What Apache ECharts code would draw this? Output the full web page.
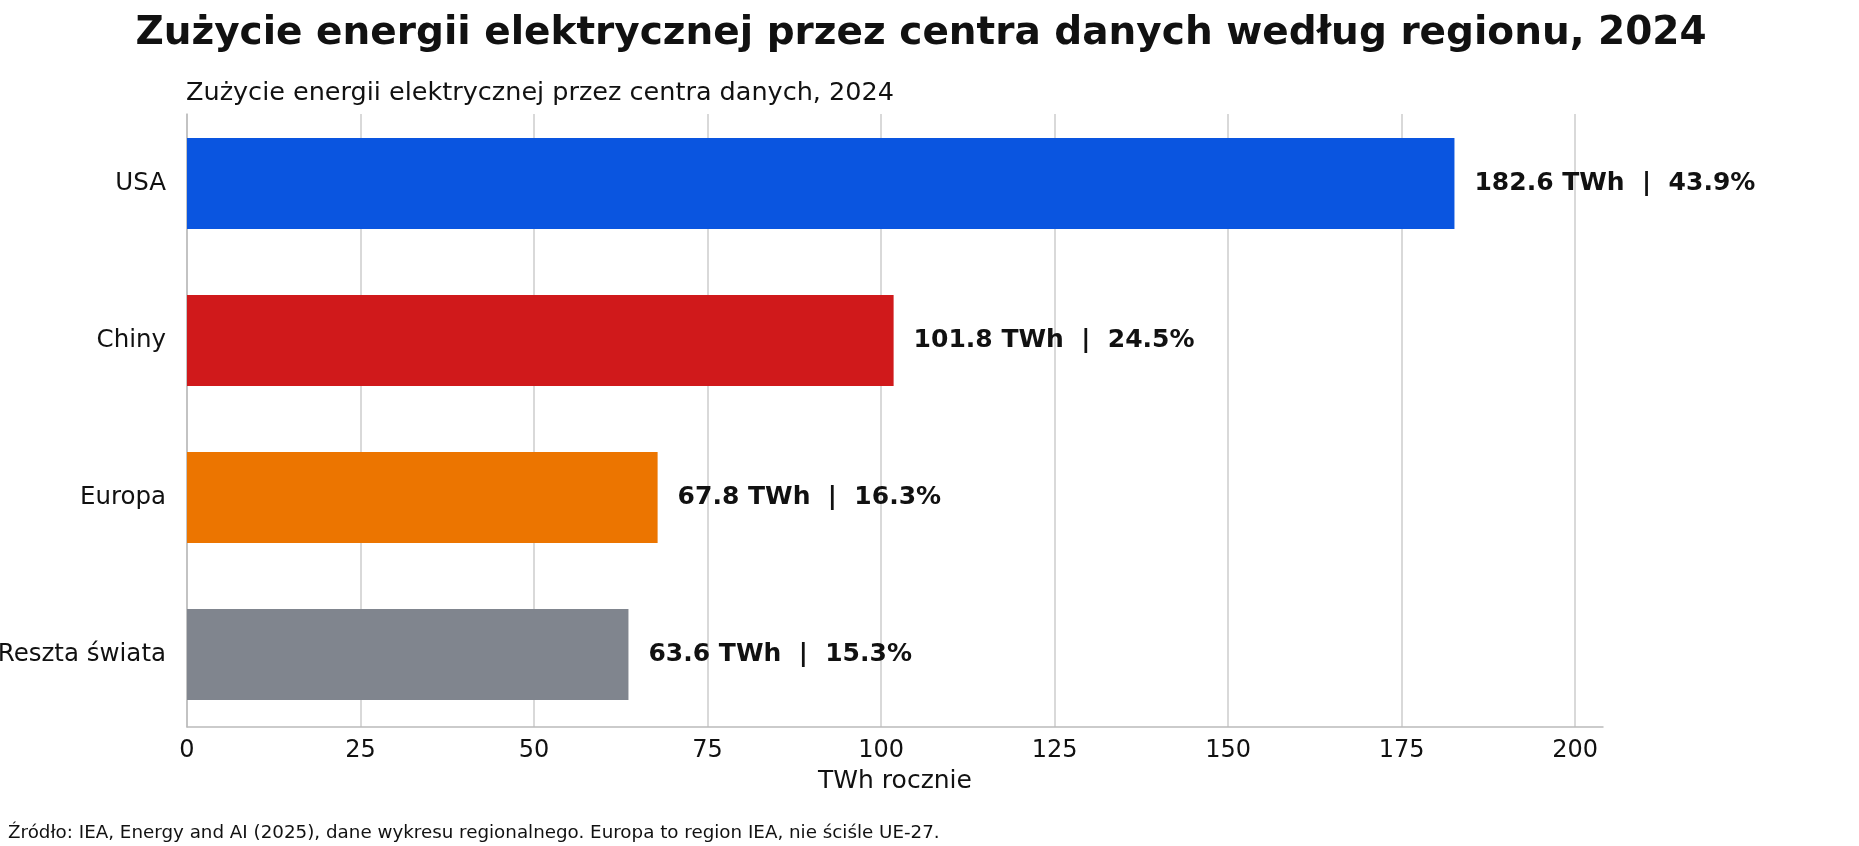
<!DOCTYPE html>
<html>
<head>
<meta charset="utf-8">
<script src="https://cdn.jsdelivr.net/npm/echarts@6/dist/echarts.min.js"></script>
<style>
  html, body { margin: 0; padding: 0; background: #fff; }
  #chart { width: 1859px; height: 846px; }
</style>
</head>
<body>
<div id="chart"></div>
<script>
// dane z wykresu
const regions = ['USA', 'Chiny', 'Europa', 'Reszta świata']
const twh = [182.6, 101.8, 67.8, 63.6]
const share = [43.9, 24.5, 16.3, 15.3]
const barColors = ['#0A55E0', '#D0191B', '#EC7500', '#80858E']
const xTicks = [0, 25, 50, 75, 100, 125, 150, 175, 200]

const font = 'DejaVu Sans'
const gridColor = '#ccc'

const myChart = echarts.init(document.getElementById('chart'))

const option = {
  backgroundColor: '#fff',
  animation: false,
  textStyle: { fontFamily: font },
  title: [
    {
      text: 'Zużycie energii elektrycznej przez centra danych według regionu, 2024',
      left: 916,
      top: 9,
      textAlign: 'center',
      textStyle: { fontFamily: font, fontSize: 39, fontWeight: 'bold', color: '#111' }
    },
    {
      text: 'Zużycie energii elektrycznej przez centra danych, 2024',
      left: 181,
      top: 75,
      textStyle: { fontFamily: font, fontSize: 25.5, fontWeight: 'normal', color: '#111' }
    },
    {
      text: 'Źródło: IEA, Energy and AI (2025), dane wykresu regionalnego. Europa to region IEA, nie ściśle UE-27.',
      left: 3,
      top: 819,
      textStyle: { fontFamily: font, fontSize: 18.3, fontWeight: 'normal', color: '#111' }
    }
  ],
  grid: [
    // słupki
    { left: 187, right: 256, top: 105, bottom: 113, containLabel: false, outerBoundsMode: 'none' },
    // ramka: osie i linie siatki
    { left: 187, right: 256, top: 114, bottom: 119, containLabel: false, outerBoundsMode: 'none' }
  ],
  xAxis: [
    {
      gridIndex: 0,
      type: 'value',
      min: 0,
      max: 204,
      show: false
    },
    {
      gridIndex: 1,
      type: 'value',
      min: 0,
      max: 204,
      interval: 25,
      name: 'TWh rocznie',
      nameLocation: 'middle',
      nameGap: 42,
      nameTextStyle: { fontFamily: font, fontSize: 25, color: '#111' },
      axisLine: { show: true, lineStyle: { color: '#bbb', width: 1.5 } },
      axisTick: { show: false },
      axisLabel: {
        fontFamily: font,
        fontSize: 24,
        color: '#111',
        margin: 12,
        showMaxLabel: false,
        formatter: v => (xTicks.includes(v) ? String(v) : '')
      },
      splitLine: { show: true, showMaxLine: false, lineStyle: { color: gridColor, width: 1.5 } }
    }
  ],
  yAxis: [
    {
      gridIndex: 0,
      type: 'category',
      inverse: true,
      data: regions,
      axisLine: { show: false },
      axisTick: { show: false },
      splitLine: { show: false },
      axisLabel: { fontFamily: font, fontSize: 24.5, color: '#111', margin: 21 }
    },
    {
      gridIndex: 1,
      type: 'value',
      min: 0,
      max: 1,
      axisLine: { show: true, lineStyle: { color: '#bbb', width: 1.5 } },
      axisTick: { show: false },
      axisLabel: { show: false },
      splitLine: { show: false }
    }
  ],
  series: [
    {
      type: 'bar',
      xAxisIndex: 0,
      yAxisIndex: 0,
      barWidth: 91,
      data: twh.map((v, i) => ({ value: v, itemStyle: { color: barColors[i] } })),
      label: {
        show: true,
        position: 'right',
        distance: 20,
        fontFamily: font,
        fontSize: 25,
        fontWeight: 'bold',
        color: '#111',
        formatter: p => twh[p.dataIndex].toFixed(1) + ' TWh  |  ' + share[p.dataIndex].toFixed(1) + '%'
      }
    }
  ]
}

myChart.setOption(option)
</script>
</body>
</html>
